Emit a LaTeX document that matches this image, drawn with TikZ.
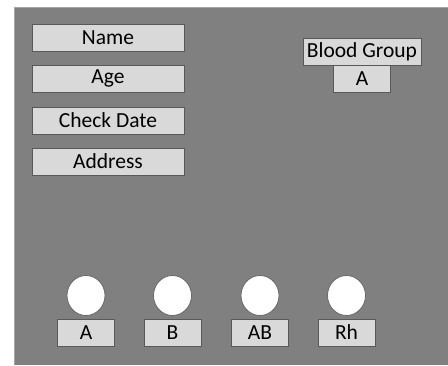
\documentclass[tikz,border=0pt]{standalone}
\usepackage{fontspec}
\setmainfont{Carlito}
\usetikzlibrary{shapes.geometric}
\begin{document}
\begin{tikzpicture}[x=1pt,y=-1pt,
  field/.style={draw=black!65,fill=black!15,line width=0.8pt,inner sep=0pt,font=\fontsize{21.5}{23}\selectfont,text=black},
  dot/.style={draw=black!60,fill=white,line width=0.8pt,ellipse,inner sep=0pt,minimum width=38pt,minimum height=40pt}]
\useasboundingbox (0,0) rectangle (448,365);
\fill[white] (0,0) rectangle (448,365);
\fill[black!50] (14,7) rectangle (448,365);
\draw[black!35,line width=0.6pt] (14,365) -- (14,7) -- (448,7);
\node[field,minimum width=152pt,minimum height=27pt] (name) at (108,37.5) {Name};
\node[field,minimum width=152pt,minimum height=27pt] (age) at (108,78.5) {Age};
\node[field,minimum width=152pt,minimum height=27pt] (date) at (108,120.5) {Check Date};
\node[field,minimum width=152pt,minimum height=27pt] (addr) at (108,161.5) {Address};
\node[field,minimum width=118pt,minimum height=27pt] (bg) at (362,52) {Blood Group};
\node[field,minimum width=57pt,minimum height=27pt] (bga) at (362,79) {A};
\node[dot] (c1) at (86,295.5) {};
\node[dot] (c2) at (172.5,295.5) {};
\node[dot] (c3) at (260,295.5) {};
\node[dot] (c4) at (346.5,295.5) {};
\node[field,minimum width=57pt,minimum height=27pt] (la) at (86,332.5) {A};
\node[field,minimum width=57pt,minimum height=27pt] (lb) at (172.5,332.5) {B};
\node[field,minimum width=57pt,minimum height=27pt] (lab) at (260,332.5) {AB};
\node[field,minimum width=57pt,minimum height=27pt] (lrh) at (346.5,332.5) {Rh};
\end{tikzpicture}
\end{document}
